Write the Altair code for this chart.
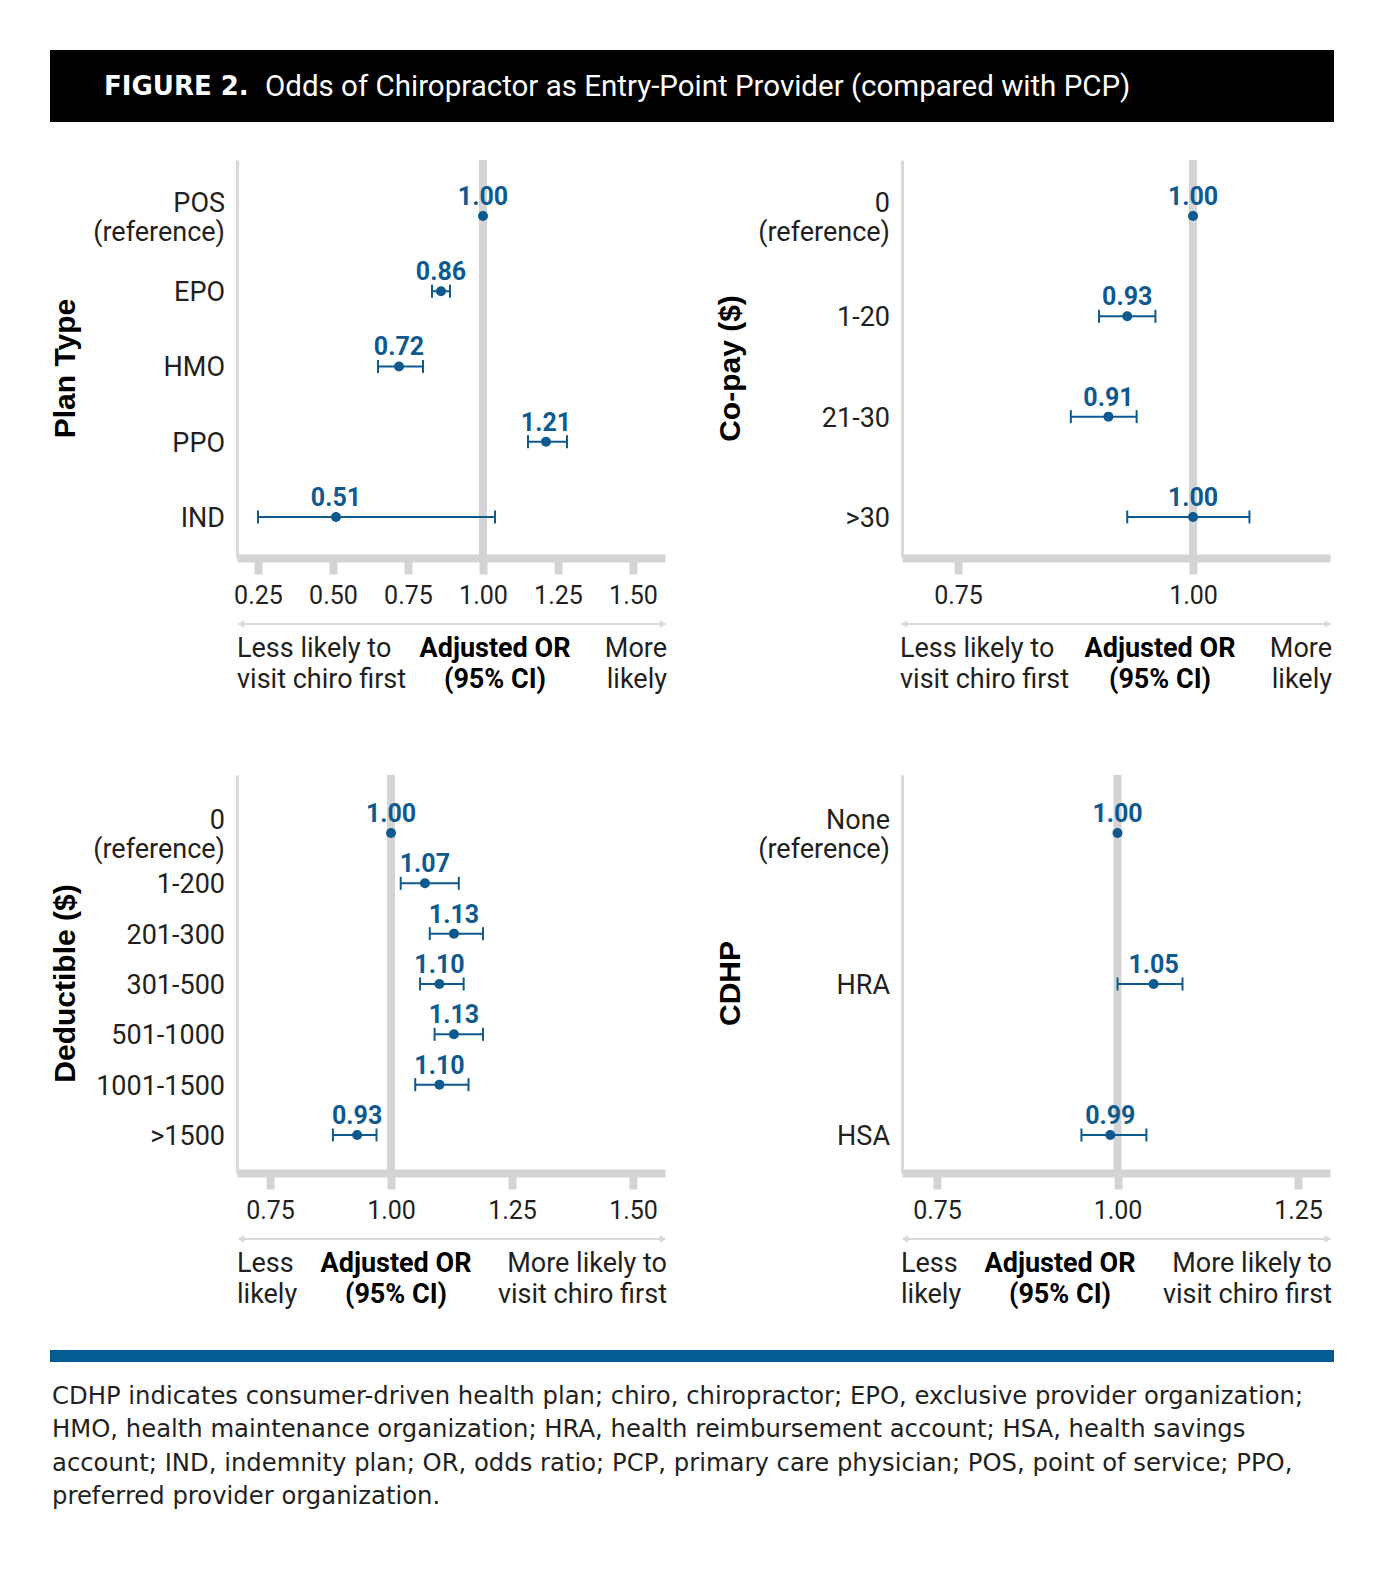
import altair as alt
import pandas as pd

BLUE = "#0e5a8f"
GRAY = "#d4d4d6"
LGRAY = "#d9d9d9"
TXT = "#231f20"
FONT = "Roboto"
TFONT = "Liberation Sans"

W, H = 428, 398

# ---------------- data ----------------
plan_cats = ["POS|(reference)", "EPO", "HMO", "PPO", "IND"]
plan_or = [1.00, 0.86, 0.72, 1.21, 0.51]
plan_lo = [None, 0.83, 0.65, 1.15, 0.25]
plan_hi = [None, 0.89, 0.80, 1.28, 1.04]

copay_cats = ["0|(reference)", "1-20", "21-30", ">30"]
copay_or = [1.00, 0.93, 0.91, 1.00]
copay_lo = [None, 0.90, 0.87, 0.93]
copay_hi = [None, 0.96, 0.94, 1.06]

ded_cats = ["0|(reference)", "1-200", "201-300", "301-500", "501-1000", "1001-1500", ">1500"]
ded_or = [1.00, 1.07, 1.13, 1.10, 1.13, 1.10, 0.93]
ded_lo = [None, 1.02, 1.08, 1.06, 1.09, 1.05, 0.88]
ded_hi = [None, 1.14, 1.19, 1.15, 1.19, 1.16, 0.97]

cdhp_cats = ["None|(reference)", "HRA", "HSA"]
cdhp_or = [1.00, 1.05, 0.99]
cdhp_lo = [None, 1.00, 0.95]
cdhp_hi = [None, 1.09, 1.04]

ref_value = [1.0]

plan_ticks = [0.25, 0.50, 0.75, 1.00, 1.25, 1.50]
copay_ticks = [0.75, 1.00]
ded_ticks = [0.75, 1.00, 1.25, 1.50]
cdhp_ticks = [0.75, 1.00, 1.25]

title_bold = "FIGURE 2."
title_text = "Odds of Chiropractor as Entry-Point Provider (compared with PCP)"
footnote = ("CDHP indicates consumer-driven health plan; chiro, chiropractor; EPO, exclusive provider organization;\n"
            "HMO, health maintenance organization; HRA, health reimbursement account; HSA, health savings\n"
            "account; IND, indemnity plan; OR, odds ratio; PCP, primary care physician; POS, point of service; PPO,\n"
            "preferred provider organization.")

one = pd.DataFrame({"k": [0]})


def panel(cats, ors, los, his, domain, ticks, title, pad, align,
          left_txt, right_txt, mid_x, left_x=0, right_x=W + 2, header=False, footer=False):
    df = pd.DataFrame({"cat": cats, "or": ors, "lo": los, "hi": his})
    df["l1"] = [c.split("|")[0] for c in cats]
    df["l2"] = [c.split("|")[1] if "|" in c else "" for c in cats]
    single = df[df["l2"] == ""]
    multi = df[df["l2"] != ""]
    ci = df.dropna(subset=["lo", "hi"])
    caps = pd.concat([ci[["cat", "lo"]].rename(columns={"lo": "v"}),
                      ci[["cat", "hi"]].rename(columns={"hi": "v"})])
    xs = alt.Scale(domain=domain, nice=False, zero=False)
    ys = alt.Scale(type="point", padding=pad, align=align)
    xaxis = alt.Axis(values=ticks, format=".2f", title=None, grid=False,
                     domainColor=GRAY, domainWidth=8, domainCap="butt",
                     tickColor=GRAY, tickWidth=8, tickSize=16, tickCap="butt",
                     labelFont=FONT, labelFontSize=25, labelColor=TXT,
                     labelPadding=9, labelFlush=False, labelOverlap=False)
    yaxis = alt.Axis(title=title, titleFont=TFONT, titleFontSize=30, titleFontWeight="bold",
                     titleColor="#000000", titleAngle=270, titleAlign="center",
                     titleBaseline="middle", titleX=-172, titleY=208,
                     ticks=False, labels=False, domainColor=LGRAY, domainWidth=3, grid=False)

    def X(f):
        return alt.X(f, scale=xs, axis=xaxis)

    def Y():
        return alt.Y("cat:N", sort=cats, scale=ys, axis=yaxis)

    ref = alt.Chart(pd.DataFrame({"v": ref_value})).mark_rule(
        color=GRAY, strokeWidth=8).encode(x=X("v:Q"))
    rule = alt.Chart(ci).mark_rule(color=BLUE, strokeWidth=2).encode(
        x=X("lo:Q"), x2="hi:Q", y=Y())
    tick = alt.Chart(caps).mark_tick(color=BLUE, thickness=2, size=13, opacity=1).encode(
        x=X("v:Q"), y=Y())
    pts = alt.Chart(df).mark_circle(color=BLUE, size=100, opacity=1).encode(
        x=X("or:Q"), y=Y())
    lab = alt.Chart(df).mark_text(color=BLUE, font=FONT, fontSize=25, fontWeight="bold",
                                  dy=-19, baseline="middle").encode(
        x=X("or:Q"), y=Y(), text=alt.Text("or:Q", format=".2f"))

    # category labels (left of the plot)
    ylab_kw = dict(font=FONT, fontSize=27, color=TXT, align="right", baseline="middle")
    yl_single = alt.Chart(single).mark_text(dy=2, **ylab_kw).encode(
        x=alt.value(-12), y=Y(), text="l1:N")
    yl_top = alt.Chart(multi).mark_text(dy=-12, **ylab_kw).encode(
        x=alt.value(-12), y=Y(), text="l1:N")
    yl_bot = alt.Chart(multi).mark_text(dy=17, **ylab_kw).encode(
        x=alt.value(-12), y=Y(), text="l2:N")

    arrow = alt.Chart(one).mark_rule(color=LGRAY, strokeWidth=2).encode(
        x=alt.value(left_x + 3), x2=alt.value(right_x - 3), y=alt.value(H + 66))
    ah_l = alt.Chart(one).mark_point(shape="triangle-left", filled=True, color=LGRAY,
                                     size=60, opacity=1).encode(
        x=alt.value(left_x + 4), y=alt.value(H + 66))
    ah_r = alt.Chart(one).mark_point(shape="triangle-right", filled=True, color=LGRAY,
                                     size=60, opacity=1).encode(
        x=alt.value(right_x - 4), y=alt.value(H + 66))
    bt_kw = dict(font=FONT, fontSize=27, baseline="middle", lineBreak="\n", lineHeight=31)
    t_left = alt.Chart(one).mark_text(color=TXT, align="left", **bt_kw).encode(
        x=alt.value(left_x), y=alt.value(H + 91), text=alt.value(left_txt))
    t_mid = alt.Chart(one).mark_text(color="#000000", fontWeight="bold", align="center",
                                     **bt_kw).encode(
        x=alt.value(mid_x), y=alt.value(H + 91), text=alt.value("Adjusted OR\n(95% CI)"))
    t_right = alt.Chart(one).mark_text(color=TXT, align="right", **bt_kw).encode(
        x=alt.value(right_x), y=alt.value(H + 91), text=alt.value(right_txt))

    layers = [ref, rule, tick, pts, lab, yl_single, yl_top, yl_bot,
              arrow, ah_l, ah_r, t_left, t_mid, t_right]

    if header:
        bar = alt.Chart(one).mark_rect(color="#000000").encode(
            x=alt.value(-187), x2=alt.value(1097), y=alt.value(-110), y2=alt.value(-38))
        hb = alt.Chart(one).mark_text(font="DejaVu Sans", fontSize=26, fontWeight="bold",
                                      color="#ffffff", align="left", baseline="middle").encode(
            x=alt.value(-133), y=alt.value(-73), text=alt.value(title_bold))
        ht = alt.Chart(one).mark_text(font=FONT, fontSize=29.5, color="#ffffff",
                                      align="left", baseline="middle").encode(
            x=alt.value(28), y=alt.value(-73), text=alt.value(title_text))
        layers += [bar, hb, ht]
    if footer:
        fbar = alt.Chart(one).mark_rect(color="#035d92").encode(
            x=alt.value(-187), x2=alt.value(1097), y=alt.value(H + 177), y2=alt.value(H + 189))
        ftxt = alt.Chart(one).mark_text(font="DejaVu Sans", fontSize=24.3, color=TXT, align="left",
                                        baseline="middle", lineBreak="\n", lineHeight=33.4).encode(
            x=alt.value(-185), y=alt.value(H + 224), text=alt.value(footnote))
        layers += [fbar, ftxt]

    return alt.layer(*layers).properties(width=W, height=H)


p1 = panel(plan_cats, plan_or, plan_lo, plan_hi, [0.18, 1.6067], plan_ticks, "Plan Type",
           0.6445, 0.577, "Less likely to\nvisit chiro first", "More\nlikely", 258, header=True)
p2 = panel(copay_cats, copay_or, copay_lo, copay_hi, [0.6904, 1.1457], copay_ticks, "Co-pay ($)",
           0.4835, 0.577, "Less likely to\nvisit chiro first", "More\nlikely", 258, left_x=-2)
p3 = panel(ded_cats, ded_or, ded_lo, ded_hi, [0.6818, 1.566], ded_ticks, "Deductible ($)",
           0.954, 0.604, "Less\nlikely", "More likely to\nvisit chiro first", 159, footer=True)
p4 = panel(cdhp_cats, cdhp_or, cdhp_lo, cdhp_hi, [0.7015, 1.2943], cdhp_ticks, "CDHP",
           0.318, 0.604, "Less\nlikely", "More likely to\nvisit chiro first", 158, left_x=-1)

chart = alt.concat(p1, p2, p3, p4, columns=2,
                   spacing=alt.RowColnumber(row=217, column=237),
                   bounds="flush").properties(
    padding={"left": 42, "top": 42, "right": 10, "bottom": 20},
    background="#ffffff",
).configure_view(strokeWidth=0)

chart.save("out.html", embed_options={"renderer": "svg", "actions": False})
